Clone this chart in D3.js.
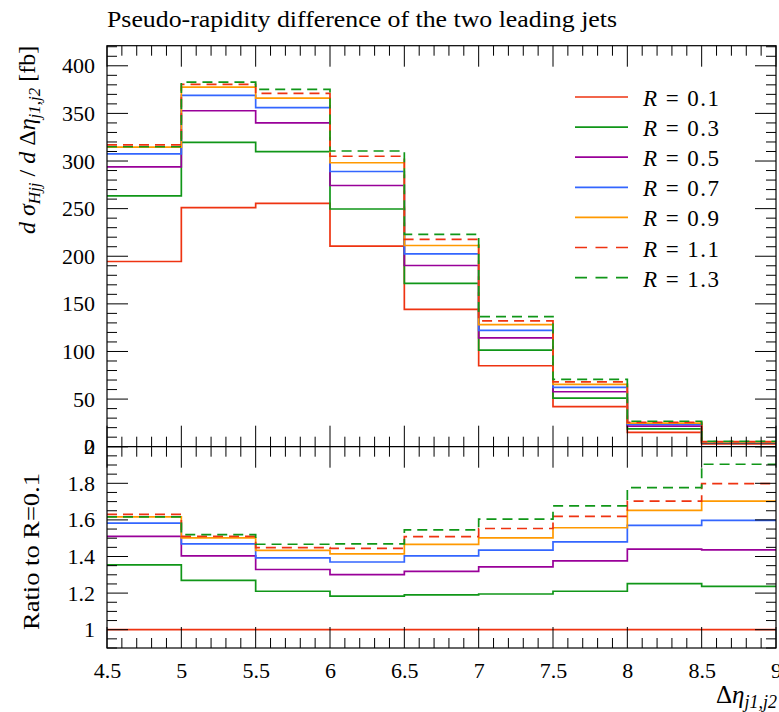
<!DOCTYPE html>
<html><head><meta charset="utf-8">
<script src="https://cdn.jsdelivr.net/npm/d3@7"></script>
<style>
body{margin:0;background:#fff}
svg{display:block}
text{font-family:"Liberation Serif","DejaVu Serif",serif;fill:#000}
</style>
</head><body>
<svg id="c" width="779" height="712"></svg>
<script>
// ---------------- data ----------------
const binEdges = [4.5, 5, 5.5, 6, 6.5, 7, 7.5, 8, 8.5, 9];
const seriesLabels = ["0.1", "0.3", "0.5", "0.7", "0.9", "1.1", "1.3"];

// differential cross section [fb] per bin
const xs_R01 = [194.5, 251.0, 255.5, 210.7, 144.2, 85.0, 42.0, 15.0, 3.0];
const xs_R03 = [263.5, 319.5, 309.8, 249.6, 171.6, 101.5, 51.0, 18.7, 3.7];
const xs_R05 = [293.8, 352.8, 340.0, 274.3, 190.3, 114.3, 57.7, 21.6, 4.3];
const xs_R07 = [307.5, 369.0, 356.0, 289.0, 202.4, 122.1, 62.2, 23.5, 4.8];
const xs_R09 = [314.5, 377.5, 366.0, 298.2, 211.3, 128.2, 65.5, 24.8, 5.1];
const xs_R11 = [317.0, 380.5, 371.0, 305.0, 217.8, 132.2, 68.0, 25.5, 5.4];
const xs_R13 = [315.0, 382.8, 375.2, 310.5, 223.0, 136.6, 70.6, 26.7, 5.7];

// ratio to R = 0.1
const ratio_R01 = [1, 1, 1, 1, 1, 1, 1, 1, 1];
const ratio_R03 = [1.354, 1.270, 1.210, 1.184, 1.190, 1.195, 1.210, 1.252, 1.237];
const ratio_R05 = [1.510, 1.403, 1.329, 1.301, 1.319, 1.343, 1.376, 1.440, 1.436];
const ratio_R07 = [1.582, 1.469, 1.392, 1.370, 1.403, 1.435, 1.480, 1.570, 1.597];
const ratio_R09 = [1.617, 1.502, 1.433, 1.414, 1.466, 1.502, 1.557, 1.652, 1.703];
const ratio_R11 = [1.630, 1.510, 1.449, 1.444, 1.509, 1.553, 1.619, 1.703, 1.798];
const ratio_R13 = [1.617, 1.520, 1.467, 1.469, 1.545, 1.604, 1.677, 1.776, 1.904];

const upperTicks = [0, 50, 100, 150, 200, 250, 300, 350, 400];
const ratioTicks = [1, 1.2, 1.4, 1.6, 1.8, 2];
const xTicks = [4.5, 5, 5.5, 6, 6.5, 7, 7.5, 8, 8.5, 9];

// ---------------- styles ----------------
const xsSeries = [xs_R01, xs_R03, xs_R05, xs_R07, xs_R09, xs_R11, xs_R13];
const ratioSeries = [ratio_R01, ratio_R03, ratio_R05, ratio_R07, ratio_R09, ratio_R11, ratio_R13];
const colors = ["#ee3311", "#109618", "#990099", "#3366ff", "#ff9900", "#ee3311", "#109618"];
const dashes = [null, null, null, null, null, "10,6", "10,6"];

const L = 107, R = 776;
const upTop = 45.7, upBot = 446.7, rBot = 648;
const svg = d3.select("#c");

const x = d3.scaleLinear().domain([4.5, 9]).range([L, R]);
const yU = d3.scaleLinear().domain([0, 421.1]).range([upBot, upTop]);
const yR = d3.scaleLinear().domain([0.9, 2]).range([rBot, upBot]);

const defs = svg.append("defs");
defs.append("clipPath").attr("id", "clipU").append("rect")
  .attr("x", L).attr("y", upTop).attr("width", R - L).attr("height", upBot - upTop);
defs.append("clipPath").attr("id", "clipR").append("rect")
  .attr("x", L).attr("y", upBot).attr("width", R - L).attr("height", rBot - upBot);

function stepPts(vals) {
  const p = vals.map((v, i) => [binEdges[i], v]);
  p.push([binEdges[binEdges.length - 1], vals[vals.length - 1]]);
  return p;
}

function drawSeries(g, yScale, allVals) {
  const line = d3.line().x(d => x(d[0])).y(d => yScale(d[1])).curve(d3.curveStepAfter);
  allVals.forEach((vals, i) => {
    g.append("path").attr("d", line(stepPts(vals)))
      .attr("fill", "none").attr("stroke", colors[i]).attr("stroke-width", 1.7)
      .attr("stroke-dasharray", dashes[i]);
  });
}

drawSeries(svg.append("g").attr("clip-path", "url(#clipU)"), yU, xsSeries);
drawSeries(svg.append("g").attr("clip-path", "url(#clipR)"), yR, ratioSeries);

// ---------------- axes ----------------
const minorX = d3.range(45, 91).map(v => v / 10);
const minorU = d3.range(0, 430, 10);
const minorR = d3.range(18, 41).map(v => v / 20);
const MAJ = 21, MIN = 10;

function ticksX(yPos, dir) {
  const g = svg.append("g").attr("stroke", "#000").attr("stroke-width", 1);
  minorX.forEach(v => {
    const isMaj = xTicks.some(t => Math.abs(t - v) < 1e-6);
    const len = isMaj ? MAJ : MIN;
    g.append("line").attr("x1", x(v)).attr("x2", x(v)).attr("y1", yPos).attr("y2", yPos + dir * len);
  });
}
ticksX(upTop, 1); ticksX(upBot, -1); ticksX(upBot, 1); ticksX(rBot, -1);

function ticksY(scale, minors, majors) {
  const g = svg.append("g").attr("stroke", "#000").attr("stroke-width", 1);
  const [d0, d1] = scale.domain();
  minors.forEach(v => {
    if (v < d0 - 1e-9 || v > d1 + 1e-9) return;
    const isMaj = majors.some(t => Math.abs(t - v) < 1e-6);
    const len = isMaj ? MAJ : MIN;
    const yy = scale(v);
    g.append("line").attr("x1", L).attr("x2", L + len).attr("y1", yy).attr("y2", yy);
    g.append("line").attr("x1", R).attr("x2", R - len).attr("y1", yy).attr("y2", yy);
  });
}
ticksY(yU, minorU, upperTicks);
ticksY(yR, minorR, ratioTicks);

// frames
svg.append("rect").attr("x", L).attr("y", upTop).attr("width", R - L).attr("height", rBot - upTop)
  .attr("fill", "none").attr("stroke", "#000").attr("stroke-width", 1.2);
svg.append("line").attr("x1", L).attr("x2", R).attr("y1", upBot).attr("y2", upBot)
  .attr("stroke", "#000").attr("stroke-width", 1.2);

// tick labels via d3 axes (labels only)
const fsTick = 22;
const axU = svg.append("g").attr("transform", `translate(${L},0)`)
  .call(d3.axisLeft(yU).tickValues(upperTicks).tickSize(0).tickPadding(12).tickFormat(d3.format("d")));
const axR = svg.append("g").attr("transform", `translate(${L},0)`)
  .call(d3.axisLeft(yR).tickValues(ratioTicks).tickSize(0).tickPadding(12).tickFormat(d => d3.format("")(+d.toFixed(1))));
const axX = svg.append("g").attr("transform", `translate(0,${rBot})`)
  .call(d3.axisBottom(x).tickValues(xTicks).tickSize(0).tickPadding(14).tickFormat(d => String(d)));
[axU, axR, axX].forEach(a => {
  a.select(".domain").remove();
  a.selectAll("text").style("font-size", fsTick + "px").style("font-family", "'Liberation Serif',serif");
});

// title
svg.append("text").attr("x", L).attr("y", 27).style("font-size", "24px")
  .attr("textLength", 510).attr("lengthAdjust", "spacingAndGlyphs")
  .text("Pseudo-rapidity difference of the two leading jets");

// y label (upper)
const yl = svg.append("text").attr("text-anchor", "end")
  .attr("transform", `translate(35,${upTop}) rotate(-90)`).style("font-size", "24px");
yl.append("tspan").style("font-style", "italic").text("d σ");
yl.append("tspan").style("font-style", "italic").style("font-size", "17px").attr("dy", 5).text("Hjj");
yl.append("tspan").attr("dy", -5).text(" / ");
yl.append("tspan").style("font-style", "italic").text("d ");
yl.append("tspan").text("Δ");
yl.append("tspan").style("font-style", "italic").text("η");
yl.append("tspan").style("font-style", "italic").style("font-size", "17px").attr("dy", 5).text("j1,j2");
yl.append("tspan").attr("dy", -5).text(" [fb]");

// ratio label
svg.append("text").attr("text-anchor", "middle")
  .attr("transform", `translate(39,551.5) rotate(-90)`).style("font-size", "24px")
  .attr("textLength", 157).attr("lengthAdjust", "spacingAndGlyphs")
  .text("Ratio to R=0.1");

// x label
const xl = svg.append("text").attr("text-anchor", "end").attr("x", R + 1).attr("y", 703).style("font-size", "25px");
xl.append("tspan").text("Δ");
xl.append("tspan").style("font-style", "italic").text("η");
xl.append("tspan").style("font-style", "italic").style("font-size", "18px").attr("dy", 5).text("j1,j2");

// legend
const lg = svg.append("g");
seriesLabels.forEach((lab, i) => {
  const yy = 97 + i * 30.1;
  lg.append("line").attr("x1", 575).attr("x2", 628).attr("y1", yy).attr("y2", yy)
    .attr("stroke", colors[i]).attr("stroke-width", 1.7).attr("stroke-dasharray", dashes[i] ? "12,8.5" : null);
  const t = lg.append("text").attr("x", 643).attr("y", yy + 9).style("font-size", "23px")
    .attr("textLength", 76).attr("lengthAdjust", "spacing");
  t.append("tspan").style("font-style", "italic").text("R");
  t.append("tspan").text(" = " + lab);
});
</script>
</body></html>
